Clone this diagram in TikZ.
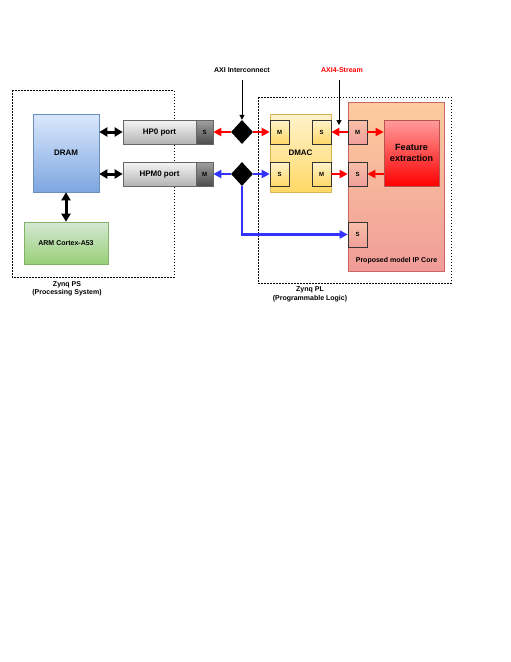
\documentclass[tikz,border=0pt]{standalone}
\usepackage{fontspec}
\setmainfont{Liberation Sans}
\usetikzlibrary{shapes.geometric,arrows.meta}
\definecolor{redA}{HTML}{FF0000}
\definecolor{blueA}{HTML}{3333FF}
\definecolor{dramD}{HTML}{6C8EBF}
\definecolor{dramT}{HTML}{DAE8FC}
\definecolor{dramB}{HTML}{7EA6E0}
\definecolor{armD}{HTML}{82B366}
\definecolor{armT}{HTML}{D5E8D4}
\definecolor{armB}{HTML}{97D077}
\definecolor{portD}{HTML}{666666}
\definecolor{portT}{HTML}{F5F5F5}
\definecolor{portB}{HTML}{B3B3B3}
\definecolor{msT}{HTML}{A0A0A0}
\definecolor{msB}{HTML}{4D4D4D}
\definecolor{subD}{HTML}{333333}
\definecolor{dmT}{HTML}{FFF2CC}
\definecolor{dmB}{HTML}{FFD966}
\definecolor{dmD}{HTML}{D6B656}
\definecolor{isT}{HTML}{F8BFA8}
\definecolor{isB}{HTML}{F0A09A}
\definecolor{ipD}{HTML}{CC6666}
\definecolor{ipT}{HTML}{FDCC9E}
\definecolor{ipB}{HTML}{F09C98}
\definecolor{feD}{HTML}{B85450}
\definecolor{feT}{HTML}{FF9C9C}
\definecolor{feB}{HTML}{FF0000}
\begin{document}
\begin{tikzpicture}[x=1pt,y=-1pt,
  box/.style={rectangle,inner sep=0pt,font=\bfseries\fontsize{8}{9}\selectfont,line width=0.6pt},
  dram/.style={box,draw=dramD,top color=dramT,bottom color=dramB},
  port/.style={box,draw=portD,top color=portT,bottom color=portB,text depth=0pt},
  portms/.style={box,draw=portD,top color=msT,bottom color=msB,font=\bfseries\fontsize{6}{7}\selectfont},
  sub/.style={box,draw=subD,minimum width=19pt,minimum height=24pt,font=\bfseries\fontsize{6}{7}\selectfont},
  dsub/.style={sub,top color=dmT,bottom color=dmB},
  isub/.style={sub,top color=isT,bottom color=isB},
  dia/.style={diamond,fill=black,inner sep=0pt,minimum width=22pt,minimum height=24pt},
  group/.style={draw=black,line width=0.5pt,dash pattern=on 1.5pt off 1.5pt},
  lbl/.style={font=\bfseries\fontsize{7}{8.4}\selectfont,align=center,inner sep=0pt},
  redarr/.style={draw=redA,line width=2.5pt,-{Triangle[length=8pt,width=8pt]}},
  bluarr/.style={draw=blueA,line width=2.5pt,-{Triangle[length=8pt,width=8pt]}},
  blkarr/.style={draw=black,line width=3pt,{Triangle[length=8pt,width=9pt]}-{Triangle[length=8pt,width=9pt]}},
  thinarr/.style={draw=black,line width=1pt,-{Triangle[length=5pt,width=5pt]}}
]
\useasboundingbox (0,0) rectangle (511,662);

% groups
\draw[group] (12,90) rectangle (174,277);
\draw[group] (258,97) rectangle (451,283);
\node[lbl] (pslbl) at (67,288.5) {Zynq PS\\(Processing System)};
\node[lbl] (pllbl) at (310,294.5) {Zynq PL\\(Programmable Logic)};

% PS side
\node[dram,minimum width=66pt,minimum height=78pt] (dram) at (66,153) {DRAM};
\node[box,draw=armD,top color=armT,bottom color=armB,minimum width=84pt,minimum height=42pt,font=\bfseries\fontsize{7}{8}\selectfont] (arm) at (66,243) {ARM Cortex-A53};
\node[port,minimum width=73pt,minimum height=24pt] (hp0) at (159.5,132) {HP0 port};
\node[portms,minimum width=17pt,minimum height=24pt] (hp0s) at (204.5,132) {S};
\node[port,minimum width=73pt,minimum height=24pt] (hpm0) at (159.5,174) {HPM0 port};
\node[portms,minimum width=17pt,minimum height=24pt] (hpm0m) at (204.5,174) {M};

% interconnect
\node[dia] (d1) at (242,132) {};
\node[dia] (d2) at (242,174) {};
\node[lbl] (axil) at (242,70) {AXI Interconnect};
\coordinate (axis) at (242,80);
\node[lbl,text=redA] (strl) at (342,70) {AXI4-Stream};
\coordinate (strs) at (339,80);
\coordinate (stre) at (339,125);

% DMAC
\node[box,draw=dmD,top color=dmT,bottom color=dmB,minimum width=61pt,minimum height=78pt] (dmac) at (300.5,153) {DMAC};
\node[dsub] (dm1) at (279.5,132) {M};
\node[dsub] (ds1) at (321.5,132) {S};
\node[dsub] (ds2) at (279.5,174) {S};
\node[dsub] (dm2) at (321.5,174) {M};

% IP core
\node[box,draw=ipD,top color=ipT,bottom color=ipB,minimum width=96pt,minimum height=169pt] (ip) at (396,186.5) {};
\node[lbl,anchor=center] (iplbl) at (396.5,261) {Proposed model IP Core};
\node[isub] (im1) at (357.5,132) {M};
\node[isub] (is1) at (357.5,174) {S};
\node[isub,minimum height=25pt] (is3) at (357.5,234.5) {S};
\node[box,draw=feD,top color=feT,bottom color=feB,minimum width=55pt,minimum height=66pt,align=center,font=\bfseries\fontsize{9}{11}\selectfont] (fe) at (411.5,153) {Feature\\extraction};

% connectors
\draw[blkarr] (dram.east |- hp0.west) -- (hp0.west);
\draw[blkarr] (dram.east |- hpm0.west) -- (hpm0.west);
\draw[blkarr] (dram.south) -- (arm.north);

\draw[thinarr] (axis) -- (d1.north);
\draw[thinarr] (strs) -- (stre);

\draw[redarr] (d1.west) -- (hp0s.east);
\draw[redarr] (d1.east) -- (dm1.west);
\draw[redarr] (im1.west) -- (ds1.east);
\draw[redarr] (im1.east) -- (fe.west |- im1.east);
\draw[redarr] (fe.west |- is1.east) -- (is1.east);
\draw[redarr] (dm2.east) -- (is1.west);

\draw[bluarr] (d2.west) -- (hpm0m.east);
\draw[bluarr] (d2.east) -- (ds2.west);
\draw[bluarr] (d2.south) |- (is3.west);
\end{tikzpicture}
\end{document}
